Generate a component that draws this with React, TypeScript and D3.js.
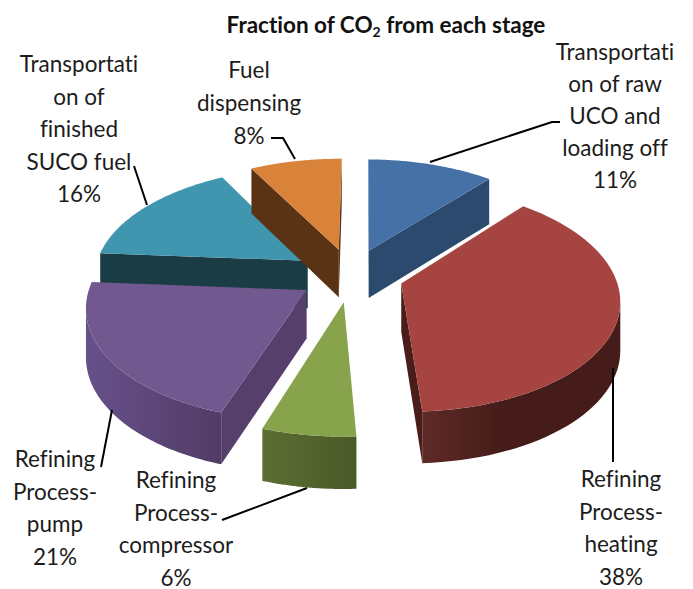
import React, { useEffect, useRef } from 'react';
import * as d3 from 'd3';

const stages = [
  'Transportation of raw UCO and loading off',
  'Refining Process-heating',
  'Refining Process-compressor',
  'Refining Process-pump',
  'Transportation of finished SUCO fuel',
  'Fuel dispensing'
];
const fractions = [11, 38, 6, 21, 16, 8];

const topColors = ['#4571a6', '#a64441', '#87a44c', '#71588f', '#3f96ae', '#d8823a'];
const wallColors = ['#2c4a6e', '#4a1c1a', '#4b5a28', '#573f6c', '#1a3c45', '#5a3315'];
const rimLight = ['#2c4a6e', '#5e2a27', '#5c6e33', '#67508a', '#1a3c45', '#5a3315'];
const rimDark = ['#2c4a6e', '#451c19', '#4a5928', '#523c66', '#1a3c45', '#5a3315'];
// excel paints these out of angle order
const drawOrder = [4, 5, 0, 3, 1, 2];

const labelLines = [
  ['Transportati', 'on of raw', 'UCO and', 'loading off', '11%'],
  ['Refining', 'Process-', 'heating', '38%'],
  ['Refining', 'Process-', 'compressor', '6%'],
  ['Refining', 'Process-', 'pump', '21%'],
  ['Transportati', 'on of', 'finished', 'SUCO fuel', '16%'],
  ['Fuel', 'dispensing', '8%']
];
const labelSpots = [
  { x: 615, y: 60, step: 32 },
  { x: 621, y: 487, step: 32.5 },
  { x: 176, y: 488, step: 32.5 },
  { x: 55, y: 467, step: 32.5 },
  { x: 79, y: 72, step: 32.5 },
  { x: 249, y: 78, step: 33 }
];
const leaders = [
  [[430, 162], [552, 122], [560, 122]],
  [[613, 368], [613, 462]],
  [[307, 488], [222, 520]],
  [[112, 410], [101, 467]],
  [[147, 205], [134, 166]],
  [[295, 159], [283, 138], [271, 138]]
];

const WIDTH = 693;
const HEIGHT = 589;
const CX = 351;
const CY = 275;
const RX = 214;
const RY = 109;
const DEPTH = 48;
const EXPLODE = 0.245;
const PERSPECTIVE = 0.13;
const ROTATION = (0.5 * Math.PI) / 180;

type P = [number, number];

const App = () => {
  const svgRef = useRef<SVGSVGElement | null>(null);

  useEffect(() => {
    const svg = d3.select(svgRef.current);
    svg.selectAll('*').remove();

    const arcs = d3
      .pie<number>()
      .sort(null)
      .startAngle(ROTATION)
      .endAngle(ROTATION + 2 * Math.PI)
      .value(d => d)(fractions);
    const defs = svg.append('defs');
    const path = d3.line();

    // tilted disc seen in perspective, y runs away from the viewer
    const project = (x: number, y: number, drop: number): P => {
      const s = 1 / (1 + PERSPECTIVE * y);
      return [CX + RX * x * s, CY - RY * y * s + DEPTH * Math.sqrt(s) * drop];
    };

    const content = svg.append('g').attr('class', 'pie');

    drawOrder.forEach(i => {
      const a = arcs[i];
      const mid = (a.startAngle + a.endAngle) / 2;
      const ox = EXPLODE * Math.sin(mid);
      const oy = EXPLODE * Math.cos(mid);
      const rim = (t: number, drop: number) =>
        project(ox + Math.sin(t), oy + Math.cos(t), drop);
      const apex = (drop: number) => project(ox, oy, drop);

      const angles = d3
        .range(0, 61)
        .map(k => a.startAngle + ((a.endAngle - a.startAngle) * k) / 60);

      const g = content.append('g').attr('class', 'slice').attr('data-stage', stages[i]);

      // outer wall, only the part that turns toward the viewer
      const front = angles.filter((t, k) => {
        const next = angles[k + 1] ?? t;
        const prev = angles[k - 1] ?? t;
        return rim(next, 0)[0] < rim(t, 0)[0] || rim(t, 0)[0] < rim(prev, 0)[0];
      });
      if (front.length > 1) {
        const id = `rim-${i}`;
        const grad = defs.append('linearGradient').attr('id', id);
        grad.append('stop').attr('offset', '0').attr('stop-color', rimLight[i]);
        grad
          .append('stop')
          .attr('offset', i === 1 ? '0.4' : '1')
          .attr('stop-color', rimDark[i]);
        const pts = [
          ...front.map(t => rim(t, 0)),
          ...front
            .slice()
            .reverse()
            .map(t => rim(t, 1))
        ];
        g.append('path')
          .attr('d', path(pts) + 'Z')
          .attr('fill', `url(#${id})`);
      }

      // radial walls, drawn when they sit on the lower side of the slice
      const m = rim(mid, 0);
      const p = apex(0);
      [a.startAngle, a.endAngle].forEach(t => {
        const q = rim(t, 0);
        const cross = (q[0] - p[0]) * (m[1] - p[1]) - (q[1] - p[1]) * (m[0] - p[0]);
        const down = q[0] - p[0];
        if (cross * down < 0) {
          g.append('path')
            .attr('d', path([p, q, rim(t, 1), apex(1)]) + 'Z')
            .attr('fill', wallColors[i]);
        }
      });

      g.append('path')
        .attr('d', path([p, ...angles.map(t => rim(t, 0))]) + 'Z')
        .attr('fill', topColors[i]);
    });

    // leader lines
    svg
      .append('g')
      .selectAll('path')
      .data(leaders)
      .join('path')
      .attr('d', d => path(d as P[]))
      .attr('fill', 'none')
      .attr('stroke', '#000')
      .attr('stroke-width', 2);

    // data labels
    const labels = svg
      .append('g')
      .attr('font-family', 'Lato, "Open Sans", sans-serif')
      .attr('font-size', 22.5)
      .attr('fill', '#1c1c1c')
      .attr('text-anchor', 'middle')
      .style('font-variant-ligatures', 'none');
    labelLines.forEach((lines, i) => {
      const spot = labelSpots[i];
      const text = labels.append('text');
      lines.forEach((line, k) => {
        text
          .append('tspan')
          .attr('x', spot.x)
          .attr('y', spot.y + k * spot.step)
          .text(line);
      });
    });

    // title with subscript
    const title = svg
      .append('text')
      .attr('x', 386)
      .attr('y', 33)
      .attr('text-anchor', 'middle')
      .attr('font-family', 'Lato, "Open Sans", sans-serif')
      .attr('font-size', 22.5)
      .attr('font-weight', 700)
      .attr('fill', '#111')
      .style('font-variant-ligatures', 'none');
    title.append('tspan').text('Fraction of CO');
    title.append('tspan').attr('font-size', 14).attr('dy', 4).text('2');
    title.append('tspan').attr('dy', -4).text(' from each stage');
  }, []);

  return (
    <svg
      ref={svgRef}
      width={WIDTH}
      height={HEIGHT}
      style={{ position: 'absolute', left: 0, top: 0, background: '#fff' }}
    />
  );
};

export default App;
